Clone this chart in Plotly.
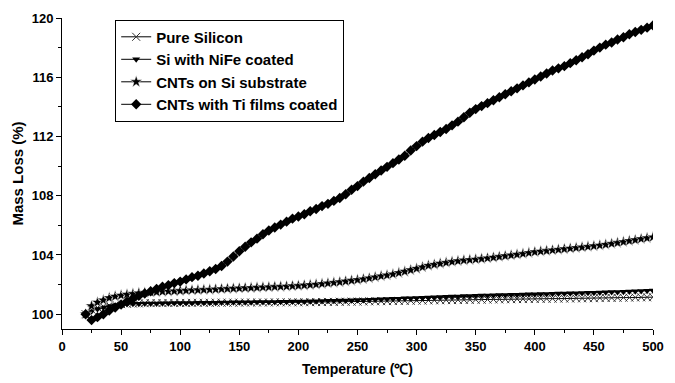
import plotly.graph_objects as go

# Temperature sampling (every 5 degrees C, 20..500)
temperature = list(range(20, 505, 5))

pure_silicon = [
    100.0, 100.3, 100.45, 100.53, 100.6, 100.64, 100.68, 100.7, 100.72, 100.73,
    100.74, 100.75, 100.75, 100.75, 100.76, 100.76, 100.76, 100.76, 100.77, 100.77,
    100.77, 100.77, 100.78, 100.78, 100.78, 100.78, 100.78, 100.79, 100.79, 100.79,
    100.79, 100.79, 100.8, 100.8, 100.8, 100.8, 100.8, 100.81, 100.81, 100.82,
    100.82, 100.83, 100.83, 100.84, 100.84, 100.85, 100.85, 100.86, 100.87, 100.87,
    100.88, 100.88, 100.89, 100.9, 100.9, 100.91, 100.92, 100.92, 100.93, 100.94,
    100.94, 100.95, 100.95, 100.96, 100.97, 100.97, 100.98, 100.98, 100.99, 101.0,
    101.0, 101.01, 101.01, 101.02, 101.02, 101.03, 101.03, 101.04, 101.04, 101.05,
    101.05, 101.06, 101.06, 101.07, 101.07, 101.08, 101.08, 101.09, 101.1, 101.1,
    101.11, 101.12, 101.12, 101.13, 101.14, 101.14, 101.15,
]

si_nife = [
    100.0, 100.2, 100.35, 100.45, 100.55, 100.6, 100.65, 100.68, 100.7, 100.71,
    100.72, 100.73, 100.73, 100.74, 100.74, 100.75, 100.75, 100.76, 100.76, 100.77,
    100.77, 100.78, 100.78, 100.79, 100.79, 100.8, 100.8, 100.81, 100.81, 100.82,
    100.82, 100.83, 100.83, 100.84, 100.84, 100.85, 100.85, 100.86, 100.87, 100.88,
    100.89, 100.9, 100.91, 100.92, 100.93, 100.94, 100.95, 100.96, 100.98, 100.99,
    101.01, 101.02, 101.04, 101.05, 101.07, 101.08, 101.1, 101.11, 101.13, 101.14,
    101.16, 101.17, 101.19, 101.2, 101.22, 101.23, 101.25, 101.26, 101.27, 101.28,
    101.29, 101.3, 101.31, 101.32, 101.33, 101.34, 101.35, 101.36, 101.37, 101.38,
    101.39, 101.4, 101.41, 101.42, 101.43, 101.44, 101.45, 101.46, 101.48, 101.49,
    101.5, 101.52, 101.53, 101.55, 101.56, 101.58, 101.6,
]

cnts_si = [
    100.0, 100.55, 100.8, 100.95, 101.1, 101.2, 101.27, 101.33, 101.38, 101.42,
    101.45, 101.48, 101.5, 101.52, 101.54, 101.56, 101.58, 101.6, 101.62, 101.63,
    101.65, 101.66, 101.68, 101.7, 101.72, 101.73, 101.75, 101.77, 101.78, 101.8,
    101.82, 101.83, 101.85, 101.86, 101.88, 101.9, 101.92, 101.95, 101.98, 102.01,
    102.05, 102.09, 102.13, 102.17, 102.22, 102.27, 102.32, 102.37, 102.43, 102.5,
    102.57, 102.63, 102.7, 102.79, 102.88, 102.98, 103.08, 103.18, 103.28, 103.35,
    103.42, 103.48, 103.54, 103.59, 103.64, 103.67, 103.7, 103.74, 103.78, 103.83,
    103.88, 103.93, 103.98, 104.03, 104.08, 104.14, 104.2, 104.24, 104.28, 104.32,
    104.36, 104.4, 104.44, 104.48, 104.52, 104.56, 104.6, 104.65, 104.7, 104.76,
    104.82, 104.88, 104.95, 105.01, 105.08, 105.14, 105.2,
]

cnts_ti = [
    100.0, 99.6, 99.8, 100.0, 100.25, 100.45, 100.65, 100.85, 101.05, 101.25,
    101.4, 101.55, 101.7, 101.85, 101.95, 102.1, 102.2, 102.35, 102.5, 102.6,
    102.75, 102.9, 103.05, 103.25, 103.55, 103.9, 104.25, 104.55, 104.85, 105.1,
    105.4, 105.65, 105.85, 106.05, 106.25, 106.45, 106.6, 106.75, 106.95, 107.1,
    107.3, 107.45, 107.65, 107.85, 108.1, 108.4, 108.65, 108.95, 109.2, 109.45,
    109.7, 109.95, 110.2, 110.45, 110.7, 111.05, 111.35, 111.65, 111.9, 112.1,
    112.3, 112.5, 112.75, 113.0, 113.3, 113.6, 113.85, 114.05, 114.25, 114.45,
    114.65, 114.85, 115.05, 115.25, 115.45, 115.65, 115.85, 116.05, 116.25, 116.45,
    116.6, 116.75, 116.95, 117.15, 117.35, 117.55, 117.8, 118.0, 118.2, 118.35,
    118.55, 118.7, 118.9, 119.05, 119.2, 119.35, 119.5,
]

series_names = [
    "Pure Silicon",
    "Si with NiFe coated",
    "CNTs on Si substrate",
    "CNTs with Ti films coated",
]

FONT = "Liberation Sans, Arial, sans-serif"

fig = go.Figure()

fig.add_trace(go.Scatter(
    x=temperature, y=pure_silicon, name=series_names[0], mode="lines+markers",
    line=dict(color="#000000", width=1),
    marker=dict(symbol="x-thin", size=8, line=dict(color="#333333", width=1)),
))
fig.add_trace(go.Scatter(
    x=temperature, y=si_nife, name=series_names[1], mode="lines+markers",
    line=dict(color="#000000", width=1),
    marker=dict(symbol="triangle-down", size=7, color="#000000"),
))
fig.add_trace(go.Scatter(
    x=temperature, y=cnts_si, name=series_names[2], mode="lines+markers",
    line=dict(color="#000000", width=1),
    marker=dict(symbol="star", size=9, color="#000000",
                line=dict(color="#ffffff", width=0.5)),
))
fig.add_trace(go.Scatter(
    x=temperature, y=cnts_ti, name=series_names[3], mode="lines+markers",
    line=dict(color="#000000", width=1),
    marker=dict(symbol="diamond", size=8, color="#000000"),
))

axis_common = dict(
    showline=True, linecolor="#000000", linewidth=1,
    showgrid=False, zeroline=False, automargin=False,
    ticks="outside", ticklen=5, tickwidth=1, tickcolor="#000000",
    tickfont=dict(family=FONT, size=13, color="#000000", weight="bold"),
    mirror=False,
)

fig.update_layout(
    width=675, height=383,
    margin=dict(l=62, r=22, t=18, b=54),
    paper_bgcolor="#ffffff", plot_bgcolor="#ffffff",
    font=dict(family=FONT, color="#000000"),
    xaxis=dict(
        **axis_common,
        range=[0, 500], dtick=50, tick0=0,
        minor=dict(dtick=25, ticks="outside", ticklen=3, tickcolor="#000000"),
        title=dict(text="Temperature (℃)", standoff=11,
                   font=dict(family=FONT, size=14, color="#000000", weight="bold")),
    ),
    yaxis=dict(
        **axis_common,
        range=[99, 120], dtick=4, tick0=100,
        minor=dict(dtick=2, ticks="outside", ticklen=3, tickcolor="#000000"),
        title=dict(text="Mass Loss (%)", standoff=4,
                   font=dict(family=FONT, size=15, color="#000000", weight="bold")),
    ),
    legend=dict(
        x=0.09, y=0.995, xanchor="left", yanchor="top",
        bgcolor="#ffffff", bordercolor="#000000", borderwidth=1,
        font=dict(family=FONT, size=15, color="#000000", weight="bold"),
        itemwidth=30, tracegroupgap=0,
    ),
    showlegend=True,
)

fig.write_html("out.html")
